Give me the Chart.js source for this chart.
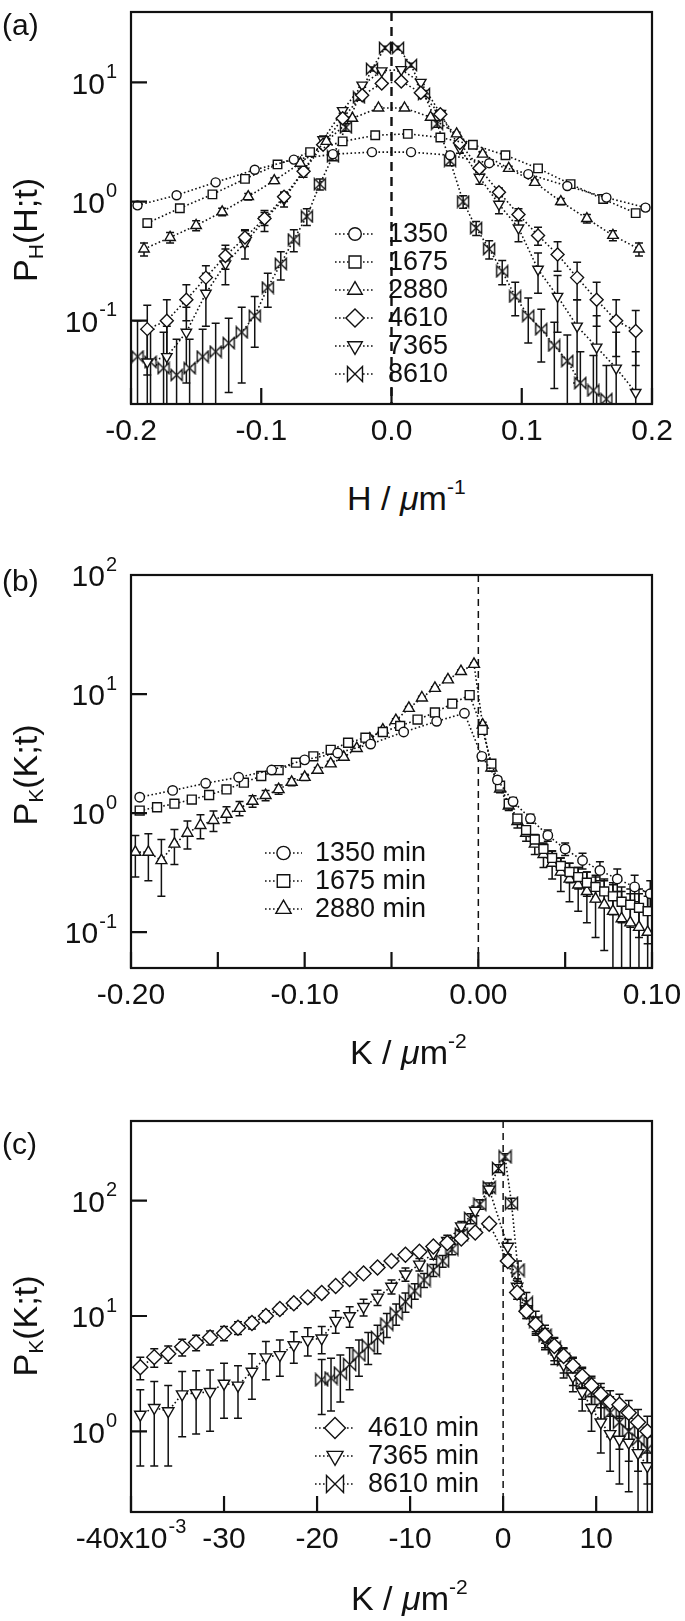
<!DOCTYPE html>
<html>
<head>
<meta charset="utf-8">
<script src="https://cdn.jsdelivr.net/npm/chart.js@4.4.1/dist/chart.umd.min.js"></script>
<style>
  html, body { margin: 0; padding: 0; background: #fff; }
  body { width: 685px; height: 1621px; position: relative; overflow: hidden;
         font-family: "Liberation Sans", Arial, Helvetica, sans-serif; color: #111; }
  canvas { position: absolute; left: 0; }
  .lbl { position: absolute; white-space: nowrap; line-height: 1; }
  .panel { font-size: 30px; transform: translateY(-50%); }
  .ytitle { font-size: 34px; transform: translate(-50%, -50%) rotate(-90deg); }
  .xtitle { font-size: 34px; transform: translateY(-50%); }
  .lbl sub { font-size: 0.62em; position: relative; top: 0.3em; vertical-align: baseline; }
  .lbl sup { font-size: 0.62em; position: relative; top: -0.75em; vertical-align: baseline; }
</style>
</head>
<body>
<canvas id="chartA" width="685" height="470" style="top:0px"></canvas>
<canvas id="chartB" width="685" height="494" style="top:540px"></canvas>
<canvas id="chartC" width="685" height="488" style="top:1090px"></canvas>

<div class="lbl panel" style="left:2px;top:25px">(a)</div>
<div class="lbl ytitle" style="left:25px;top:230px">P<sub>H</sub>(H;t)</div>
<div class="lbl xtitle" style="left:347px;top:498px">H / <i>μ</i>m<sup>-1</sup></div>

<div class="lbl panel" style="left:2px;top:581px">(b)</div>
<div class="lbl ytitle" style="left:25px;top:775px">P<sub>K</sub>(K;t)</div>
<div class="lbl xtitle" style="left:350px;top:1052px">K / <i>μ</i>m<sup>-2</sup></div>

<div class="lbl panel" style="left:2px;top:1144px">(c)</div>
<div class="lbl ytitle" style="left:25px;top:1326px">P<sub>K</sub>(K;t)</div>
<div class="lbl xtitle" style="left:351px;top:1598px">K / <i>μ</i>m<sup>-2</sup></div>

<script>
// ---------- panel (a): P_H(H;t) ----------
const aTimes = ['1350', '1675', '2880', '4610', '7365', '8610'];
const aH1350 = [-0.195, -0.165, -0.135, -0.105, -0.075, -0.045, -0.015, 0.015, 0.045, 0.075, 0.105, 0.135, 0.165, 0.195];
const aP1350 = [0.93, 1.13, 1.45, 1.85, 2.25, 2.5, 2.6, 2.6, 2.45, 2.1, 1.7, 1.35, 1.08, 0.89];
const aE1350 = [0.05, 0.05, 0.05, 0.06, 0.07, 0.07, 0.08, 0.08, 0.07, 0.07, 0.06, 0.05, 0.05, 0.05];

const aH1675 = [-0.1875, -0.1625, -0.1375, -0.1125, -0.0875, -0.0625, -0.0375, -0.0125, 0.0125, 0.0375, 0.0625, 0.0875, 0.1125, 0.1375, 0.1625, 0.1875];
const aP1675 = [0.66, 0.88, 1.15, 1.55, 2.05, 2.6, 3.2, 3.6, 3.7, 3.45, 3.0, 2.45, 1.9, 1.4, 1.05, 0.8];
const aE1675 = [0.05, 0.05, 0.06, 0.07, 0.08, 0.09, 0.1, 0.1, 0.1, 0.1, 0.09, 0.08, 0.07, 0.06, 0.05, 0.05];

const aH2880 = [-0.19, -0.17, -0.15, -0.13, -0.11, -0.09, -0.07, -0.05, -0.03, -0.01, 0.01, 0.03, 0.05, 0.07, 0.09, 0.11, 0.13, 0.15, 0.17, 0.19];
const aP2880 = [0.40, 0.5, 0.63, 0.82, 1.1, 1.5, 2.1, 3.2, 5.0, 6.1, 6.1, 5.1, 3.7, 2.5, 1.9, 1.45, 1.0, 0.72, 0.52, 0.4];
const aE2880 = [0.05, 0.05, 0.06, 0.06, 0.07, 0.08, 0.1, 0.12, 0.15, 0.15, 0.15, 0.15, 0.12, 0.1, 0.08, 0.07, 0.06, 0.06, 0.05, 0.05];

const aH15 = [-0.1875, -0.1725, -0.1575, -0.1425, -0.1275, -0.1125, -0.0975, -0.0825, -0.0675, -0.0525, -0.0375, -0.0225, -0.0075,
              0.0075, 0.0225, 0.0375, 0.0525, 0.0675, 0.0825, 0.0975, 0.1125, 0.1275, 0.1425, 0.1575, 0.1725, 0.1875];
const aP4610 = [0.085, 0.1, 0.15, 0.23, 0.35, 0.5, 0.72, 1.1, 1.8, 3.0, 5.0, 7.8, 9.8, 10.2, 8.2, 5.4, 3.1, 1.9, 1.2, 0.78, 0.52, 0.36, 0.23, 0.15, 0.1, 0.082];
const aE4610 = [0.05, 0.05, 0.05, 0.06, 0.08, 0.08, 0.09, 0.1, 0.12, 0.15, 0.2, 0.25, 0.3, 0.3, 0.25, 0.2, 0.15, 0.12, 0.1, 0.09, 0.09, 0.1, 0.08, 0.06, 0.05, 0.04];
const aP7365 = [0.045, 0.05, 0.08, 0.17, 0.3, 0.45, 0.7, 1.05, 1.8, 3.3, 5.8, 9.5, 12.5, 12.8, 10, 5.5, 2.8, 1.6, 0.95, 0.6, 0.27, 0.16, 0.09, 0.06, 0.04, 0.025];
const aE7365 = [0.04, 0.04, 0.05, 0.08, 0.1, 0.12, 0.14, 0.15, 0.2, 0.25, 0.3, 0.4, 0.4, 0.4, 0.4, 0.3, 0.25, 0.2, 0.16, 0.14, 0.1, 0.08, 0.06, 0.05, 0.04, 0.03];

const aH8610 = [-0.195, -0.185, -0.175, -0.165, -0.155, -0.145, -0.135, -0.125, -0.115, -0.105, -0.095, -0.085, -0.075, -0.065, -0.055, -0.045, -0.035, -0.025, -0.015, -0.005,
                0.005, 0.015, 0.025, 0.035, 0.045, 0.055, 0.065, 0.075, 0.085, 0.095, 0.105, 0.115, 0.125, 0.135, 0.145, 0.155, 0.165];
const aP8610 = [0.05, 0.045, 0.04, 0.035, 0.04, 0.05, 0.055, 0.065, 0.08, 0.11, 0.19, 0.3, 0.48, 0.75, 1.4, 2.4, 4.2, 7.5, 13, 19.5,
                19.5, 14, 8, 4.5, 2.2, 1.0, 0.6, 0.4, 0.26, 0.16, 0.11, 0.085, 0.062, 0.046, 0.03, 0.026, 0.022];
const aE8610 = [0.05, 0.04, 0.04, 0.035, 0.03, 0.035, 0.04, 0.04, 0.05, 0.05, 0.06, 0.08, 0.1, 0.12, 0.15, 0.2, 0.3, 0.4, 0.5, 0.6,
                0.6, 0.5, 0.4, 0.3, 0.2, 0.12, 0.08, 0.07, 0.06, 0.05, 0.045, 0.04, 0.035, 0.03, 0.025, 0.025, 0.02];

const aXTicks = [-0.2, -0.1, 0, 0.1, 0.2];
const aXLabels = ['-0.2', '-0.1', '0.0', '0.1', '0.2'];
const aYTicks = [0.1, 1, 10];
const aYLabels = ['10^-1', '10^0', '10^1'];

// ---------- panel (b): P_K(K;t), early times ----------
const bTimes = ['1350 min', '1675 min', '2880 min'];
const bK1350 = [-0.195, -0.176, -0.157, -0.138, -0.119, -0.1, -0.081, -0.062, -0.043, -0.024, -0.008,
                0.002, 0.011, 0.02, 0.03, 0.04, 0.05, 0.06, 0.07, 0.08, 0.09, 0.099];
const bP1350 = [1.36, 1.55, 1.78, 2.0, 2.3, 2.8, 3.2, 3.8, 4.8, 5.9, 6.9,
                3.0, 1.9, 1.25, 0.9, 0.65, 0.5, 0.4, 0.33, 0.28, 0.24, 0.21];
const bE1350 = [0.06, 0.06, 0.06, 0.07, 0.07, 0.08, 0.08, 0.09, 0.1, 0.1, 0.12,
                0.15, 0.12, 0.1, 0.08, 0.07, 0.06, 0.06, 0.06, 0.06, 0.06, 0.06];

const bK1675 = [-0.195, -0.185, -0.175, -0.165, -0.155, -0.145, -0.135, -0.125, -0.115, -0.105, -0.095, -0.085, -0.075, -0.065, -0.055, -0.045, -0.035, -0.025, -0.015, -0.005,
                0.0025, 0.0075, 0.0125, 0.0175, 0.0225, 0.0275, 0.0325, 0.0375, 0.0425, 0.0475, 0.0525, 0.0575, 0.0625, 0.0675, 0.0725, 0.0775, 0.0825, 0.0875, 0.0925, 0.0975];
const bP1675 = [1.05, 1.12, 1.2, 1.3, 1.42, 1.58, 1.8, 2.05, 2.3, 2.65, 3.0, 3.4, 3.9, 4.3, 4.8, 5.4, 6.1, 7.0, 8.3, 9.8,
                5.0, 2.6, 1.7, 1.2, 0.9, 0.72, 0.6, 0.5, 0.42, 0.36, 0.32, 0.29, 0.26, 0.24, 0.22, 0.2, 0.18, 0.17, 0.16, 0.15];
const bE1675 = [0.07, 0.07, 0.07, 0.07, 0.07, 0.08, 0.08, 0.08, 0.09, 0.09, 0.1, 0.1, 0.1, 0.12, 0.12, 0.14, 0.15, 0.15, 0.18, 0.2,
                0.2, 0.12, 0.1, 0.08, 0.07, 0.06, 0.06, 0.06, 0.06, 0.06, 0.06, 0.06, 0.06, 0.06, 0.06, 0.06, 0.06, 0.06, 0.07, 0.07];

const bK2880 = [-0.1975, -0.19, -0.1825, -0.175, -0.1675, -0.16, -0.1525, -0.145, -0.1375, -0.13, -0.1225, -0.115, -0.1075, -0.1, -0.0925,
                -0.085, -0.0775, -0.07, -0.0625, -0.055, -0.0475, -0.04, -0.0325, -0.025, -0.0175, -0.01, -0.0025,
                0.0025, 0.0075, 0.0125, 0.0175, 0.0225, 0.0275, 0.0325, 0.0375, 0.0425, 0.0475, 0.0525, 0.0575, 0.0625, 0.0675, 0.0725, 0.0775, 0.0825, 0.0875, 0.0925, 0.0975];
const bP2880 = [0.47, 0.47, 0.40, 0.55, 0.68, 0.79, 0.87, 0.98, 1.1, 1.26, 1.41, 1.58, 1.82, 2.0, 2.3,
                2.6, 2.95, 3.5, 4.2, 5.0, 6.0, 7.6, 9.3, 11.2, 13.2, 15.5, 17.8,
                5.5, 2.4, 1.6, 1.15, 0.85, 0.68, 0.55, 0.45, 0.38, 0.32, 0.28, 0.25, 0.22, 0.19, 0.17, 0.15, 0.13, 0.12, 0.11, 0.1];
const bE2880 = [0.18, 0.2, 0.2, 0.18, 0.18, 0.18, 0.17, 0.15, 0.15, 0.14, 0.14, 0.14, 0.12, 0.12, 0.12,
                0.12, 0.12, 0.12, 0.15, 0.15, 0.2, 0.25, 0.3, 0.3, 0.35, 0.4, 0.4,
                0.3, 0.15, 0.12, 0.1, 0.1, 0.1, 0.1, 0.1, 0.1, 0.1, 0.1, 0.1, 0.1, 0.1, 0.1, 0.1, 0.09, 0.09, 0.1, 0.1];

const bXTicks = [-0.2, -0.15, -0.1, -0.05, 0, 0.05, 0.1];
const bXLabels = ['-0.20', '', '-0.10', '', '0.00', '', '0.10'];
const bYTicks = [0.1, 1, 10, 100];
const bYLabels = ['10^-1', '10^0', '10^1', '10^2'];

// ---------- panel (c): P_K(K;t), late times ----------
const cTimes = ['4610 min', '7365 min', '8610 min'];
const cK15 = [-0.039, -0.0375, -0.036, -0.0345, -0.033, -0.0315, -0.03, -0.0285, -0.027, -0.0255, -0.024, -0.0225, -0.021, -0.0195,
              -0.018, -0.0165, -0.015, -0.0135, -0.012, -0.0105, -0.009, -0.0075, -0.006, -0.0045, -0.003, -0.0015,
              0.0005, 0.0015, 0.0025, 0.0035, 0.0045, 0.0055, 0.0065, 0.0075, 0.0085, 0.0095, 0.0105, 0.0115, 0.0125, 0.0135, 0.0145, 0.0155];
const cP4610 = [3.6, 4.4, 4.7, 5.4, 5.9, 6.5, 7.1, 7.9, 8.7, 10, 11.5, 12.9, 14.5, 15.8,
                18.2, 20.9, 23.4, 26.3, 30, 34, 36, 40, 43, 47, 53, 63,
                30, 16, 11, 8.5, 6.8, 5.5, 4.5, 3.7, 3.0, 2.5, 2.1, 1.8, 1.7, 1.45, 1.2, 1.0];
const cE4610 = [0.8, 0.8, 0.8, 0.9, 0.9, 0.9, 1.0, 1.0, 1.0, 1.1, 1.1, 1.2, 1.2, 1.3,
                1.4, 1.5, 1.6, 1.8, 2.0, 2.2, 2.4, 2.6, 2.8, 3.0, 3.3, 3.8,
                3, 2, 1.5, 1.2, 1.0, 0.9, 0.8, 0.7, 0.6, 0.5, 0.5, 0.45, 0.4, 0.4, 0.35, 0.35];
const cP7365 = [1.4, 1.6, 1.5, 2.1, 2.15, 2.2, 2.6, 2.5, 3.3, 4.4, 4.6, 5.6, 6.2, 6.4,
                9.1, 10, 12, 14.5, 18, 23, 28, 35, 45, 60, 82, 125,
                40, 18, 11.5, 8.3, 6.3, 4.8, 3.8, 3.0, 2.2, 1.6, 1.2, 0.95, 0.85, 0.8, 0.65, 0.5];
const cE7365 = [0.9, 1.1, 1.0, 1.2, 1.2, 1.2, 1.3, 1.2, 1.4, 1.6, 1.6, 1.7, 1.7, 1.7,
                2.0, 2.0, 2.0, 2.2, 2.5, 3, 3.5, 4, 5, 6, 8, 10,
                6, 3, 2, 1.5, 1.2, 1.0, 0.9, 0.8, 0.7, 0.6, 0.55, 0.5, 0.5, 0.5, 0.45, 0.4];

const cK8610 = [-0.0195, -0.0185, -0.0175, -0.0165, -0.0155, -0.0145, -0.0135, -0.0125, -0.0115, -0.0105, -0.0095, -0.0085, -0.0075, -0.0065, -0.0055, -0.0045, -0.0035, -0.0025, -0.0015, -0.0005,
                0.0002, 0.0009, 0.0016, 0.0025, 0.0035, 0.0045, 0.0055, 0.0065, 0.0075, 0.0085, 0.0095, 0.0105, 0.0115, 0.0125, 0.0135, 0.0145, 0.0155];
const cP8610 = [2.8, 2.9, 3.2, 3.8, 4.6, 5.5, 6.5, 8.5, 10.5, 13.3, 16.5, 20.5, 25, 30, 38, 51, 70, 93, 130, 190,
                240, 95, 25, 13, 9, 6.8, 5.3, 4.2, 3.4, 2.7, 2.2, 1.8, 1.45, 1.2, 1.0, 0.85, 0.7];
const cE8610 = [1.4, 1.4, 1.4, 1.5, 1.6, 1.7, 1.8, 2, 2.2, 2.5, 2.5, 2.8, 3, 3.5, 4, 5, 7, 9, 12, 15,
                15, 10, 5, 3, 2, 1.5, 1.2, 1.0, 0.9, 0.8, 0.7, 0.6, 0.55, 0.5, 0.45, 0.4, 0.35];

const cXTicks = [-0.04, -0.03, -0.02, -0.01, 0, 0.01];
const cXLabels = ['-40x10^-3', '-30', '-20', '-10', '0', '10'];
const cYTicks = [1, 10, 100];
const cYLabels = ['10^0', '10^1', '10^2'];

// ---------- drawing helpers ----------
const INK = '#111';
const FONT = '"Liberation Sans", Arial, Helvetica, sans-serif';

function makeBowtie(s) {
  const c = document.createElement('canvas');
  c.width = s + 3; c.height = s + 3;
  const g = c.getContext('2d');
  const h = s / 2, m = c.width / 2;
  g.lineWidth = 1.4; g.strokeStyle = INK; g.fillStyle = '#fff';
  g.beginPath();
  g.moveTo(m - h, m - h); g.lineTo(m + h, m + h); g.lineTo(m + h, m - h); g.lineTo(m - h, m + h);
  g.closePath(); g.fill(); g.stroke();
  return c;
}

const markers = {
  '1350': { pointStyle: 'circle', r: 4.5 },
  '1675': { pointStyle: 'rect', r: 6 },
  '2880': { pointStyle: 'triangle', r: 6 },
  '4610': { pointStyle: 'rectRot', r: 6.5 },
  '7365': { pointStyle: 'triangle', r: 6, rot: 180 },
  '8610': { bow: true, r: 5.5 }
};

function series(label, xs, ys, es, scale) {
  const m = markers[label.slice(0, 4)];
  const r = m.r * scale;
  return {
    label: label,
    data: xs.map((x, i) => ({ x: x, y: ys[i] })),
    errorBars: es,
    showLine: true,
    borderColor: INK,
    borderWidth: 1.6,
    borderDash: [1.6, 2.4],
    tension: 0,
    pointStyle: m.bow ? makeBowtie(Math.round(2 * r)) : m.pointStyle,
    legendStyle: m.bow ? makeBowtie(Math.round(2.8 * r)) : m.pointStyle,
    pointRotation: m.rot || 0,
    pointRadius: r,
    pointHoverRadius: r,
    pointBackgroundColor: '#fff',
    pointBorderColor: INK,
    pointBorderWidth: 1.4
  };
}

function fallbackPoint(ctx, o, x, y) {
  const r = o.radius;
  ctx.beginPath();
  if (o.pointStyle === 'circle') ctx.arc(x, y, r, 0, Math.PI * 2);
  else ctx.rect(x - r * 0.7, y - r * 0.7, r * 1.4, r * 1.4);
  ctx.fill(); ctx.stroke();
}

// tick label with optional exponent, written as "base^exp"
function tickText(ctx, text, x, y, align) {
  if (!text) return;
  const parts = text.split('^');
  ctx.font = '30px ' + FONT;
  const wb = ctx.measureText(parts[0]).width;
  ctx.font = '20px ' + FONT;
  const we = parts[1] ? ctx.measureText(parts[1]).width + 1 : 0;
  const x0 = align === 'right' ? x - wb - we : x - (wb + we) / 2;
  ctx.textBaseline = 'middle'; ctx.textAlign = 'left';
  ctx.font = '30px ' + FONT;
  ctx.fillText(parts[0], x0, y);
  if (parts[1]) {
    ctx.font = '20px ' + FONT;
    ctx.fillText(parts[1], x0 + wb + 1, y - 13);
  }
}

const figurePlugin = {
  id: 'figure',
  beforeDatasetsDraw(chart, args, opts) {
    const { ctx, chartArea: a, scales: { x, y } } = chart;
    ctx.save();
    ctx.beginPath(); ctx.rect(a.left, a.top, a.right - a.left, a.bottom - a.top); ctx.clip();
    // dashed line at zero
    const x0 = x.getPixelForValue(0);
    ctx.strokeStyle = INK;
    ctx.setLineDash(opts.zeroDash); ctx.lineWidth = opts.zeroWidth;
    ctx.beginPath(); ctx.moveTo(x0, a.top); ctx.lineTo(x0, a.bottom); ctx.stroke();
    ctx.setLineDash([]);
    // error bars
    ctx.lineWidth = 1.5;
    const cap = opts.cap;
    chart.data.datasets.forEach(ds => {
      if (!ds.errorBars) return;
      ds.data.forEach((p, i) => {
        const e = ds.errorBars[i];
        if (!e) return;
        const px = x.getPixelForValue(p.x);
        const hi = y.getPixelForValue(p.y + e);
        const hasLo = p.y - e > 0;
        const lo = hasLo ? y.getPixelForValue(p.y - e) : a.bottom + 4;
        ctx.beginPath();
        ctx.moveTo(px, hi); ctx.lineTo(px, lo);
        ctx.moveTo(px - cap, hi); ctx.lineTo(px + cap, hi);
        if (hasLo) { ctx.moveTo(px - cap, lo); ctx.lineTo(px + cap, lo); }
        ctx.stroke();
      });
    });
    ctx.restore();
  },
  afterDraw(chart, args, opts) {
    const { ctx, chartArea: a, scales: { x, y } } = chart;
    ctx.save();
    // frame
    ctx.strokeStyle = INK; ctx.lineWidth = 2.2;
    ctx.strokeRect(a.left, a.top, a.right - a.left, a.bottom - a.top);
    // inward ticks
    ctx.beginPath();
    x.ticks.forEach(t => {
      const px = x.getPixelForValue(t.value);
      ctx.moveTo(px, a.bottom); ctx.lineTo(px, a.bottom - opts.tickLen);
    });
    y.ticks.forEach(t => {
      const py = y.getPixelForValue(t.value);
      ctx.moveTo(a.left, py); ctx.lineTo(a.left + opts.tickLen, py);
    });
    ctx.stroke();
    // tick labels
    ctx.fillStyle = INK;
    x.ticks.forEach((t, i) => tickText(ctx, opts.xLabels[i], x.getPixelForValue(t.value), a.bottom + 28, 'center'));
    y.ticks.forEach((t, i) => tickText(ctx, opts.yLabels[i], a.left - 14, y.getPixelForValue(t.value) + 3, 'right'));
    // legend
    const lg = opts.legend;
    const drawPoint = (Chart.helpers && Chart.helpers.drawPoint) || fallbackPoint;
    ctx.textBaseline = 'middle';
    ctx.textAlign = 'left';
    chart.data.datasets.forEach((ds, i) => {
      const yy = lg.y + i * lg.dy;
      ctx.strokeStyle = INK; ctx.lineWidth = 1.6; ctx.setLineDash([1.6, 2.4]);
      ctx.beginPath(); ctx.moveTo(lg.x0, yy); ctx.lineTo(lg.x1, yy); ctx.stroke();
      ctx.setLineDash([]);
      ctx.fillStyle = '#fff'; ctx.lineWidth = 1.4;
      drawPoint(ctx, { pointStyle: ds.legendStyle, rotation: ds.pointRotation, radius: ds.pointRadius * 1.4, borderWidth: 1.4 },
                (lg.x0 + lg.x1) / 2, yy);
      ctx.fillStyle = INK;
      ctx.font = lg.size + 'px ' + FONT;
      ctx.fillText(ds.label, lg.tx, yy + 1);
    });
    ctx.restore();
  }
};

function makeChart(id, datasets, cfg) {
  cfg.figure.xLabels = cfg.xLabels;
  cfg.figure.yLabels = cfg.yLabels;
  return new Chart(document.getElementById(id), {
    type: 'scatter',
    data: { datasets: datasets },
    plugins: [figurePlugin],
    options: {
      responsive: false,
      animation: false,
      devicePixelRatio: 1,
      layout: { padding: { top: cfg.padTop, right: 33, left: 0, bottom: 0 } },
      plugins: {
        legend: { display: false },
        tooltip: { enabled: false },
        figure: cfg.figure
      },
      scales: {
        x: {
          type: 'linear',
          min: cfg.xMin, max: cfg.xMax,
          grid: { display: false, drawTicks: false },
          border: { display: false },
          afterBuildTicks: s => { s.ticks = cfg.xTicks.map(v => ({ value: v })); },
          afterFit: s => { s.height = 66; s.paddingLeft = 0; s.paddingRight = 0; },
          ticks: { display: false, autoSkip: false }
        },
        y: {
          type: 'logarithmic',
          min: cfg.yMin, max: cfg.yMax,
          grid: { display: false, drawTicks: false },
          border: { display: false },
          afterBuildTicks: s => { s.ticks = cfg.yTicks.map(v => ({ value: v })); },
          afterFit: s => { s.width = 131; s.paddingTop = 0; s.paddingBottom = 0; },
          ticks: { display: false, autoSkip: false }
        }
      }
    }
  });
}

makeChart('chartA', [
  series(aTimes[0], aH1350, aP1350, aE1350, 1),
  series(aTimes[1], aH1675, aP1675, aE1675, 1),
  series(aTimes[2], aH2880, aP2880, aE2880, 1),
  series(aTimes[3], aH15, aP4610, aE4610, 1),
  series(aTimes[4], aH15, aP7365, aE7365, 1),
  series(aTimes[5], aH8610, aP8610, aE8610, 1)
], {
  padTop: 12, xMin: -0.2, xMax: 0.2, yMin: 0.02, yMax: 39,
  xTicks: aXTicks, xLabels: aXLabels, yTicks: aYTicks, yLabels: aYLabels,
  figure: { zeroDash: [9, 6], zeroWidth: 2.4, cap: 4, tickLen: 16,
            legend: { x0: 335, x1: 375, tx: 388, y: 234, dy: 28, size: 27 } }
});

makeChart('chartB', [
  series(bTimes[0], bK1350, bP1350, bE1350, 1.05),
  series(bTimes[1], bK1675, bP1675, bE1675, 1.05),
  series(bTimes[2], bK2880, bP2880, bE2880, 1.05)
], {
  padTop: 35, xMin: -0.2, xMax: 0.1, yMin: 0.05, yMax: 100,
  xTicks: bXTicks, xLabels: bXLabels, yTicks: bYTicks, yLabels: bYLabels,
  figure: { zeroDash: [7, 5], zeroWidth: 1.5, cap: 4, tickLen: 16,
            legend: { x0: 265, x1: 302, tx: 315, y: 313, dy: 28, size: 27 } }
});

makeChart('chartC', [
  series(cTimes[0], cK15, cP4610, cE4610, 1.15),
  series(cTimes[1], cK15, cP7365, cE7365, 1.1),
  series(cTimes[2], cK8610, cP8610, cE8610, 1.1)
], {
  padTop: 31, xMin: -0.04, xMax: 0.016, yMin: 0.2, yMax: 490,
  xTicks: cXTicks, xLabels: cXLabels, yTicks: cYTicks, yLabels: cYLabels,
  figure: { zeroDash: [7, 5], zeroWidth: 1.5, cap: 4, tickLen: 16,
            legend: { x0: 315, x1: 355, tx: 368, y: 338, dy: 28, size: 27 } }
});
</script>
</body>
</html>
